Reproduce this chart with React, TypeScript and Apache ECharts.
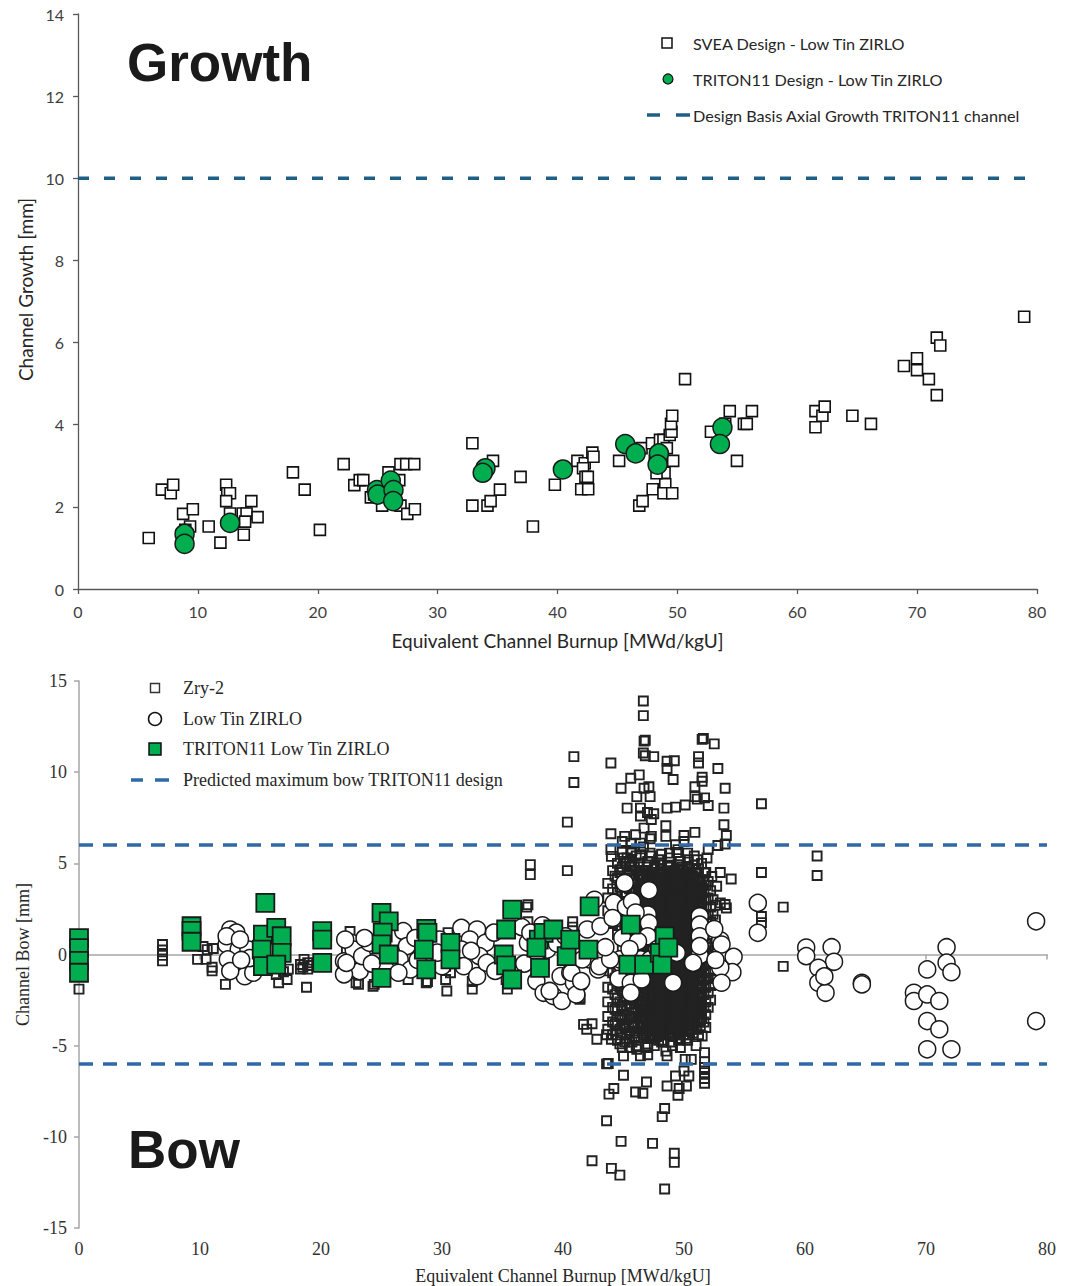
import React, { useEffect, useRef } from "react";
import * as echarts from "echarts";

// ---------- Growth panel data ----------
const burnupMin = 0;
const burnupMax = 80;
const growthMin = 0;
const growthMax = 14;
const growthLimit = 10;

const sveaGrowth: [number, number][] = [
  [5.9, 1.24], [7.0, 2.42], [7.74, 2.33], [7.94, 2.54], [8.77, 1.83], [9.58, 1.94], [9.35, 1.52], [8.95, 1.44],
  [10.9, 1.52], [11.88, 1.13], [12.36, 2.54], [12.45, 2.33], [12.68, 2.33], [12.36, 2.14], [12.68, 1.84],
  [13.74, 1.84], [14.06, 1.84], [13.94, 1.64], [13.83, 1.32], [14.46, 2.14], [14.98, 1.75], [17.93, 2.84],
  [18.91, 2.42], [20.18, 1.44], [22.16, 3.04], [23.05, 2.53], [23.5, 2.65], [23.8, 2.65], [24.43, 2.23],
  [24.7, 2.3], [25.37, 2.03], [25.9, 2.84], [26.8, 2.65], [26.9, 3.04], [27.38, 3.04], [28.05, 3.04],
  [26.9, 2.03], [27.47, 1.83], [28.1, 1.94], [32.9, 3.55], [32.9, 2.03], [34.16, 2.03], [34.42, 2.14],
  [34.62, 3.12], [35.2, 2.42], [36.92, 2.73], [37.95, 1.52], [39.78, 2.54], [41.66, 3.12], [41.98, 2.43],
  [42.56, 2.43], [42.27, 3.06], [42.13, 2.94], [42.33, 2.73], [42.53, 2.73], [42.91, 3.32], [43.0, 3.22],
  [45.14, 3.12], [46.82, 2.03], [47.1, 2.14], [47.01, 3.43], [47.88, 3.55], [47.94, 2.43], [48.55, 3.63],
  [48.84, 3.63], [49.12, 3.43], [48.93, 2.83], [48.99, 2.55], [48.84, 2.33], [49.57, 2.33], [49.65, 3.12],
  [49.36, 3.75], [49.51, 3.83], [49.47, 4.02], [49.57, 4.22], [48.26, 2.82], [48.12, 3.12], [50.64, 5.11],
  [52.8, 3.83], [53.99, 4.02], [54.37, 4.33], [54.97, 3.12], [55.55, 4.02], [55.79, 4.02], [56.22, 4.33],
  [61.52, 4.33], [61.52, 3.94], [62.1, 4.22], [62.29, 4.44], [64.6, 4.22], [66.15, 4.02], [68.9, 5.43],
  [69.99, 5.62], [69.99, 5.33], [70.98, 5.11], [71.64, 6.12], [71.93, 5.93], [71.64, 4.72], [78.93, 6.63],
];

const tritonGrowth: [number, number][] = [
  [8.89, 1.34], [8.89, 1.1], [12.68, 1.61], [24.94, 2.41], [25.0, 2.3], [26.09, 2.64], [26.32, 2.41],
  [26.29, 2.14], [33.99, 2.94], [33.76, 2.83], [40.45, 2.91], [45.65, 3.53], [46.52, 3.3], [48.46, 3.3],
  [48.35, 3.03], [53.76, 3.93], [53.55, 3.53],
];

// ---------- Bow panel data ----------
const bowMin = -15;
const bowMax = 15;
const bowLimit = 6;

const zry2Bow: [number, number][] = [
  [0, -1.9], [6.9, 0.55], [6.9, 0.25], [6.9, -0.05], [6.9, -0.35],
  [9.6, 0.9], [10.25, 0.44], [10.6, 0.27], [11.1, 0.33], [9.8, -0.27], [10.5, -0.27], [11.0, -0.7], [11.0, -0.9], [12.1, -1.64],
  [16.3, -1.1], [17.3, -0.8], [17.2, -1.37], [18.8, -1.8], [16.9, -0.95], [16.5, -1.55],
  [18.3, -0.55], [18.5, -0.7], [18.9, -0.45], [18.6, -0.27], [18.3, -0.8], [18.9, -0.8], [19.2, -0.6],
  [22.4, 1.26], [22.1, 0.27], [22.8, -0.82], [22.9, -1.55], [24.3, -1.75], [23.1, -1.64], [24.4, -1.64],
  [27.2, -1.37], [28.7, -1.55], [28.8, -1.48], [29.8, 0.27], [30.3, -0.65], [30.7, -1.0], [30.3, -1.37], [30.4, -2.0], [30.5, 1.2],
  [32.5, -1.48], [32.5, -1.9], [35.3, -1.37], [35.4, -1.9],
  [37.3, 4.93], [37.3, 4.38], [37.1, 2.73], [37.0, 2.6], [37.1, 1.8], [40.8, 1.8], [40.8, 1.5], [41.4, -2.37], [41.4, -2.46],
  [46.64, 13.9], [46.64, 13.1], [46.7, 11.7], [46.8, 11.75], [51.5, 11.8], [51.6, 11.85], [52.5, 11.55], [40.9, 10.85],
  [43.96, 10.5], [40.9, 9.43], [40.36, 7.26], [40.36, 4.6], [46.64, 11.05], [46.8, 10.9], [47.5, 10.85], [48.6, 10.6],
  [49.2, 10.63], [48.6, 10.2], [49.1, 9.6], [51.2, 10.85], [51.2, 10.5], [52.8, 10.2], [51.5, 9.72], [51.5, 9.5],
  [44.8, 9.12], [45.6, 9.67], [46.3, 9.85], [45.3, 8.03], [46.1, 8.66], [46.7, 9.12], [47.1, 9.2], [47.2, 8.66],
  [46.4, 8.03], [46.98, 7.79], [47.5, 7.72], [50.9, 9.2], [50.9, 8.66], [51.7, 8.59], [53.4, 9.12], [48.6, 8.03],
  [49.3, 8.08], [50.1, 8.2], [51.1, 8.52], [52.0, 8.17], [53.3, 8.03], [46.4, 7.6], [47.3, 7.4], [43.96, 6.62],
  [45.1, 6.48], [46.0, 6.57], [46.7, 6.93], [47.3, 6.48], [48.5, 7.06], [48.5, 6.48], [50.0, 6.53], [50.9, 6.7],
  [53.3, 7.12], [53.5, 6.53], [53.4, 6.06], [52.8, 5.98], [43.96, 5.75], [44.9, 6.2], [45.6, 6.11], [46.4, 6.11],
  [47.2, 6.35], [49.3, 6.02], [50.0, 6.2], [52.0, 5.75], [44.0, 5.38], [45.0, 5.29], [45.6, 5.56], [46.4, 5.47],
  [47.2, 5.56], [48.8, 5.56], [49.5, 5.75], [50.3, 5.56], [51.1, 5.2], [51.9, 5.29], [53.0, 4.5], [53.9, 4.14],
  [52.7, 3.74], [53.4, 2.74], [53.5, 2.55], [53.0, 2.83], [44.7, 4.65], [45.2, 5.02], [45.6, 4.83], [46.3, 5.02],
  [47.0, 5.1], [47.6, 4.83], [48.1, 5.02], [48.8, 4.83], [49.5, 4.92], [50.3, 4.83], [51.0, 4.65], [51.7, 4.47], [52.3, 4.28],
  [43.74, -5.98], [43.6, -6.0], [45.0, -6.62], [44.2, -7.35], [43.8, -7.66], [46.0, -7.54], [46.6, -7.61], [46.9, -6.99],
  [48.6, -7.21], [49.3, -6.66], [49.6, -7.35], [50.2, -7.21], [50.4, -6.66], [49.5, -7.72], [50.0, -6.39],
  [51.7, -5.38], [51.7, -5.89], [51.7, -6.2], [51.7, -6.48], [51.7, -6.8], [51.7, -7.06], [48.4, -8.45], [48.2, -8.89],
  [43.6, -9.12], [44.8, -10.25], [47.4, -10.36], [49.2, -10.9], [49.2, -11.4], [42.4, -11.31], [44.0, -11.73],
  [44.7, -12.1], [48.4, -12.86], [46.4, -5.56], [45.0, -5.56], [48.6, -5.56], [47.0, -5.1], [45.5, -4.65],
  [42.8, -4.65], [41.96, -4.1], [41.7, -3.83], [42.4, -3.8], [43.6, -4.4], [44.0, -4.65], [45.0, -3.83],
  [46.1, -5.2], [47.0, -5.5], [46.9, -4.07], [51.5, -4.47], [50.1, -5.75], [50.6, -5.75], [51.0, -5.0],
  [56.4, 8.27], [56.4, 4.5], [56.4, 2.08], [56.4, 1.75], [58.2, 2.6], [58.2, -0.65], [61.0, 5.4], [61.0, 4.33],
];

// dense cloud of Zry-2 measurements, listed per burnup column: [burnup, bows]
const zry2BowDense: [number, number[]][] = [
  [43.7, [3.9, 3.1, 2.4, -0.9, -1.8, -2.6, -3.4, -4.1]],
  [44.1, [4.6, 3.6, 2.9, 1.7, -1.0, -1.9, -2.9, -3.7, -4.4]],
  [44.3, [4.3, 3.0, 2.0, -0.3, -1.3, -2.2, -3.0, -3.8]],
  [44.5, [5.0, 4.2, 3.4, 2.7, 1.1, -0.7, -1.6, -2.4, -3.1, -3.9, -4.7]],
  [44.7, [4.5, 3.7, 2.8, 1.8, -0.9, -1.8, -2.6, -3.4, -4.1, -4.9]],
  [44.9, [5.6, 4.8, 4.0, 3.2, 2.3, 0.3, -0.4, -1.2, -2.0, -2.8, -3.5, -4.3, -5.1]],
  [45.1, [5.0, 4.2, 3.4, 2.6, 1.6, 0.8, -0.1, -0.9, -1.7, -2.5, -3.3, -4.0, -4.8]],
  [45.3, [5.3, 4.5, 3.7, 2.9, 2.0, 1.2, 0.4, -0.5, -1.3, -2.1, -2.9, -3.6, -4.4]],
  [45.5, [5.1, 4.4, 3.6, 2.8, 2.2, 1.4, 0.6, -0.3, -1.1, -1.9, -2.7, -3.5, -4.2, -5.1]],
  [45.7, [5.7, 4.9, 4.2, 3.4, 2.6, 1.8, 1.0, 0.1, -0.8, -1.6, -2.4, -3.2, -3.9, -4.8]],
  [45.9, [4.8, 4.1, 3.5, 2.8, 2.0, 1.2, 0.4, -0.5, -1.3, -2.2, -3.0, -3.8, -4.5]],
  [46.05, [5.4, 4.6, 3.9, 3.1, 2.4, 1.5, 0.7, -0.2, -1.1, -1.9, -2.7, -3.4, -4.2, -5.0]],
  [46.2, [5.0, 4.3, 3.5, 2.7, 2.0, 1.1, 0.3, -0.6, -1.5, -2.3, -3.1, -3.9, -4.6]],
  [46.4, [5.3, 4.6, 4.1, 3.7, 3.2, 2.8, 2.3, 1.9, 1.4, 0.9, 0.5, 0.0, -0.5, -0.9, -1.4, -1.8, -2.3, -2.8, -3.2, -3.7]],
  [46.55, [4.4, 3.9, 3.5, 3.0, 2.6, 2.1, 1.7, 1.2, 0.7, 0.3, -0.2, -0.7, -1.1, -1.6, -2.0, -2.5, -3.0, -3.4, -3.9, -4.3]],
  [46.65, [5.9, 4.3, 3.9, 3.4, 3.0, 2.5, 2.1, 1.6, 1.2, 0.7, 0.2, -0.2, -0.7, -1.2, -1.6, -2.1, -2.5, -3.0, -3.5, -3.9, -4.4]],
  [46.85, [4.6, 4.1, 3.7, 3.2, 2.8, 2.3, 1.9, 1.4, 1.0, 0.5, 0.1, -0.4, -0.8, -1.3, -1.7, -2.2, -2.6, -3.1, -3.6, -4.0, -4.5]],
  [47.0, [4.8, 4.4, 3.9, 3.5, 3.0, 2.6, 2.1, 1.7, 1.2, 0.8, 0.3, -0.1, -0.6, -1.0, -1.5, -1.9, -2.4, -2.9, -3.3, -3.8, -4.2, -4.9]],
  [47.15, [4.2, 3.8, 3.3, 2.9, 2.4, 2.0, 1.5, 1.1, 0.6, 0.1, -0.3, -0.8, -1.2, -1.7, -2.1, -2.6, -3.1, -3.5, -4.0, -4.4]],
  [47.3, [5.4, 4.5, 4.0, 3.6, 3.1, 2.7, 2.2, 1.8, 1.3, 0.9, 0.4, -0.1, -0.5, -1.0, -1.4, -1.9, -2.3, -2.8, -3.2, -3.7, -4.1, -4.6]],
  [47.45, [4.5, 4.1, 3.6, 3.2, 2.7, 2.3, 1.8, 1.4, 0.9, 0.4, 0.0, -0.5, -0.9, -1.4, -1.8, -2.3, -2.8, -3.2, -3.7, -4.2, -4.6]],
  [47.55, [4.7, 4.3, 3.8, 3.3, 2.9, 2.4, 2.0, 1.5, 1.1, 0.6, 0.2, -0.3, -0.7, -1.2, -1.6, -2.1, -2.6, -3.0, -3.5, -3.9, -4.4, -5.0]],
  [47.75, [4.2, 3.7, 3.3, 2.8, 2.4, 1.9, 1.5, 1.0, 0.6, 0.1, -0.4, -0.8, -1.3, -1.7, -2.2, -2.6, -3.1, -3.5, -4.0, -4.5]],
  [47.9, [5.2, 4.4, 4.0, 3.5, 3.1, 2.6, 2.2, 1.7, 1.3, 0.8, 0.4, -0.1, -0.6, -1.0, -1.5, -1.9, -2.4, -2.8, -3.3, -3.7, -4.2, -4.7]],
  [48.05, [4.7, 4.2, 3.8, 3.3, 2.9, 2.4, 2.0, 1.5, 1.1, 0.6, 0.2, -0.3, -0.7, -1.2, -1.6, -2.1, -2.5, -3.0, -3.4, -3.9, -4.4]],
  [48.15, [5.5, 4.9, 4.5, 4.0, 3.6, 3.1, 2.7, 2.2, 1.8, 1.3, 0.9, 0.4, 0.0, -0.5, -0.9, -1.4, -1.8, -2.3, -2.7, -3.2, -3.6, -4.1, -4.8]],
  [48.35, [4.4, 3.9, 3.5, 3.0, 2.6, 2.1, 1.7, 1.2, 0.8, 0.3, -0.1, -0.6, -1.0, -1.5, -1.9, -2.4, -2.8, -3.3, -3.8, -4.2, -4.7]],
  [48.5, [4.6, 4.2, 3.7, 3.3, 2.8, 2.4, 1.9, 1.5, 1.0, 0.6, 0.1, -0.3, -0.8, -1.2, -1.7, -2.1, -2.6, -3.0, -3.5, -4.0, -4.4, -5.3]],
  [48.65, [4.9, 4.4, 4.0, 3.5, 3.1, 2.6, 2.2, 1.7, 1.3, 0.8, 0.4, -0.1, -0.5, -1.0, -1.4, -1.9, -2.3, -2.8, -3.2, -3.7, -4.1]],
  [48.8, [5.3, 4.8, 4.3, 3.9, 3.4, 3.0, 2.5, 2.1, 1.6, 1.2, 0.7, 0.3, -0.2, -0.6, -1.1, -1.5, -2.0, -2.4, -2.9, -3.3, -3.8, -4.3]],
  [48.95, [4.3, 3.8, 3.4, 2.9, 2.5, 2.0, 1.6, 1.1, 0.7, 0.2, -0.2, -0.7, -1.1, -1.6, -2.0, -2.5, -2.9, -3.4, -3.9, -4.3, -4.8]],
  [49.05, [4.5, 4.1, 3.6, 3.2, 2.7, 2.3, 1.8, 1.4, 0.9, 0.5, 0.0, -0.4, -0.9, -1.3, -1.8, -2.2, -2.7, -3.1, -3.6, -4.0, -4.5, -5.0]],
  [49.25, [4.6, 4.1, 3.7, 3.2, 2.8, 2.3, 1.9, 1.4, 1.0, 0.5, 0.1, -0.4, -0.8, -1.3, -1.7, -2.2, -2.6, -3.1, -3.5, -4.0, -4.4]],
  [49.4, [5.6, 4.7, 4.2, 3.8, 3.3, 2.9, 2.4, 2.0, 1.5, 1.1, 0.6, 0.2, -0.3, -0.7, -1.2, -1.6, -2.1, -2.5, -3.0, -3.4, -3.9, -4.3]],
  [49.55, [4.3, 3.9, 3.4, 3.0, 2.5, 2.1, 1.6, 1.2, 0.7, 0.3, -0.2, -0.6, -1.1, -1.5, -2.0, -2.4, -2.9, -3.3, -3.8, -4.2, -4.7]],
  [49.7, [5.1, 4.4, 4.0, 3.5, 3.1, 2.6, 2.2, 1.7, 1.3, 0.8, 0.4, -0.1, -0.5, -1.0, -1.4, -1.9, -2.3, -2.8, -3.2, -3.7, -4.1, -4.6, -5.1]],
  [49.85, [4.8, 4.3, 3.9, 3.4, 3.0, 2.5, 2.1, 1.6, 1.2, 0.7, 0.3, -0.2, -0.6, -1.1, -1.5, -2.0, -2.4, -2.9, -3.3, -3.8, -4.2]],
  [49.95, [4.6, 4.1, 3.7, 3.2, 2.8, 2.3, 1.9, 1.4, 1.0, 0.5, 0.1, -0.4, -0.8, -1.3, -1.7, -2.2, -2.6, -3.1, -3.5, -4.0, -4.4]],
  [50.15, [4.4, 4.0, 3.5, 3.1, 2.6, 2.2, 1.7, 1.3, 0.8, 0.4, -0.1, -0.5, -1.0, -1.4, -1.9, -2.3, -2.8, -3.2, -3.7, -4.1, -4.6]],
  [50.3, [5.2, 4.3, 3.9, 3.4, 3.0, 2.5, 2.1, 1.6, 1.2, 0.7, 0.3, -0.2, -0.6, -1.1, -1.5, -2.0, -2.4, -2.9, -3.3, -3.8, -4.2, -4.7]],
  [50.45, [4.7, 4.2, 3.8, 3.3, 2.9, 2.4, 2.0, 1.5, 1.1, 0.6, 0.2, -0.3, -0.7, -1.2, -1.6, -2.1, -2.5, -3.0, -3.4, -3.9, -4.4]],
  [50.6, [4.5, 4.0, 3.6, 3.1, 2.7, 2.2, 1.8, 1.3, 0.9, 0.4, 0.0, -0.5, -0.9, -1.4, -1.8, -2.3, -2.7, -3.2, -3.6, -4.1]],
  [50.75, [4.3, 3.8, 3.4, 2.9, 2.5, 2.0, 1.6, 1.1, 0.7, 0.2, -0.2, -0.7, -1.1, -1.6, -2.0, -2.5, -2.9, -3.4, -3.8, -4.3]],
  [50.85, [5.4, 4.9, 4.2, 3.8, 3.3, 2.9, 2.4, 2.0, 1.5, 1.1, 0.6, 0.2, -0.3, -0.7, -1.2, -1.6, -2.1, -2.5, -3.0, -3.4, -3.9]],
  [51.05, [4.5, 4.0, 3.6, 3.1, 2.7, 2.2, 1.8, 1.3, 0.9, 0.4, 0.0, -0.5, -0.9, -1.4, -1.8, -2.3, -2.7, -3.2, -3.6, -4.1]],
  [51.2, [4.7, 4.0, 3.5, 3.1, 2.6, 2.2, 1.7, 1.3, 0.8, 0.4, -0.1, -0.5, -1.0, -1.4, -1.9, -2.3, -2.8, -3.2, -3.7, -4.4]],
  [51.35, [4.1, 3.6, 3.2, 2.7, 2.3, 1.8, 1.4, 0.9, 0.5, 0.0, -0.4, -0.9, -1.3, -1.8, -2.2, -2.7, -3.1, -3.6, -4.0]],
  [51.45, [5.0, 3.7, 3.3, 2.8, 2.4, 1.9, 1.5, 1.0, 0.6, 0.1, -0.3, -0.8, -1.2, -1.7, -2.1, -2.6, -3.0, -3.5]],
  [51.65, [4.1, 3.4, 2.6, 1.8, 1.0, 0.2, -0.6, -1.4, -2.2, -2.9, -3.7]],
  [51.8, [4.5, 3.8, 3.0, 2.2, 1.4, 0.6, -0.2, -1.0, -1.8, -2.6, -3.3, -4.0]],
  [52.0, [4.0, 3.1, 2.2, 1.3, 0.4, -0.5, -1.3, -2.1, -2.9]],
  [52.2, [3.5, 2.6, 1.8, 0.9, 0.0, -0.9, -1.7, -2.5]],
  [52.4, [3.0, 2.2, 1.1, 0.2, -0.8, -1.6]],
  [52.6, [2.7, 1.9, 0.5, -0.5, -1.3]],
];

const lowTinBow: [number, number][] = [
  [12.5, 1.37], [13.0, 1.2], [12.2, 0.55], [13.2, 0.27], [14.0, 0.27], [12.75, -0.64], [13.9, -0.73], [12.3, -0.27],
  [13.7, -1.19], [14.4, -1.0], [12.2, 1.0], [13.3, 0.82], [14.1, -0.2], [12.5, -0.91], [13.4, -0.3],
  [21.9, -0.37], [22.8, 0.18], [23.2, -0.91], [23.9, 0.46], [21.9, -1.09], [22.5, 0.64], [22.7, 0.27], [22.1, -0.46],
  [23.4, -0.09], [24.0, 0.64], [22.0, 0.82], [24.2, -0.5], [23.6, 0.9],
  [26.8, 1.28], [27.1, 0.46], [26.5, -0.27], [27.4, -0.82], [26.4, -1.0], [27.8, 0.9], [28.0, -0.3], [29.8, 0.82],
  [30.0, -0.64], [29.6, 0.1], [31.6, 1.46], [32.9, 1.37], [32.3, 0.82], [33.6, 0.64], [31.6, 0.27], [33.1, -0.09],
  [31.8, -0.64], [32.9, -1.19], [33.7, -0.46], [34.3, 1.2], [34.4, -0.9], [32.4, 0.2],
  [37.1, 0.64], [38.7, 0.27], [39.8, -1.19], [40.6, -1.0], [41.4, -1.55], [42.0, 1.37], [42.2, -0.27], [40.9, -1.55],
  [37.8, -1.46], [38.4, -2.1], [39.2, -2.28], [39.9, -2.55], [41.1, -2.19], [38.9, -2.0], [40.7, -1.0], [41.5, -1.46],
  [42.9, -0.82], [44.9, -0.55], [44.6, -1.33], [41.6, -0.27], [43.0, -0.64], [44.7, -0.27], [43.9, -0.27], [43.1, 1.55],
  [42.6, 3.0], [44.2, 2.83], [44.1, 2.0], [45.2, 2.6], [44.9, 0.91], [36.6, 1.5], [36.8, -0.5], [39.5, 0.6],
  [38.3, 1.6], [40.2, 1.0], [43.5, 0.4], [37.3, 1.2],
  [45.1, 3.92], [47.1, 3.52], [47.0, 2.19], [47.1, 1.73], [47.0, 1.0], [46.2, 0.73], [51.3, 2.1], [51.3, 1.64],
  [51.3, 1.0], [51.3, -0.05], [53.0, 0.78], [53.0, 0.0], [54.1, -0.13], [54.0, -0.97], [53.0, -0.73], [50.75, -0.46],
  [45.6, -1.55], [45.6, -2.1], [49.1, -1.55], [46.5, -1.37], [53.1, -1.55], [46.4, -0.27], [47.2, -0.27], [51.3, 0.46],
  [49.4, 0.09], [53.1, 0.55], [45.7, 2.9], [46.0, 2.3], [47.8, 0.3], [45.5, 0.3], [52.5, 1.4], [52.6, -0.3],
  [56.1, 2.83], [56.1, 1.19], [60.1, 0.38], [60.1, -0.09], [62.2, 0.4], [62.4, -0.4], [61.1, -0.73], [61.1, -1.55],
  [61.7, -2.1], [61.6, -1.2], [64.7, -1.55], [64.7, -1.64], [70.1, -0.82], [71.7, 0.4], [71.7, -0.45], [72.1, -0.97],
  [69.0, -2.1], [69.0, -2.55], [70.1, -2.19], [71.1, -2.55], [70.1, -3.65], [71.1, -4.1], [70.1, -5.2], [72.1, -5.2],
  [79.1, 1.82], [79.1, -3.65],
];

const tritonBow: [number, number][] = [
  [0, 0.9], [0, 0.35], [0, -0.35], [0, -1.0], [9.3, 1.55], [9.3, 1.3], [9.3, 0.7], [15.4, 2.83], [15.2, 1.09],
  [15.1, 0.27], [15.2, -0.64], [16.3, 1.46], [16.75, 1.0], [16.75, 0.09], [16.3, -0.55], [20.1, 1.28], [20.1, 0.82],
  [20.1, -0.46], [25.0, 2.28], [25.6, 1.82], [25.1, 1.2], [25.0, 0.55], [25.6, 0.0], [25.0, -1.28], [28.7, 1.4],
  [28.8, 1.19], [28.5, 0.27], [28.7, -0.82], [30.7, 0.64], [30.7, -0.27], [35.8, 2.46], [35.3, 1.37], [35.1, 0.0],
  [35.3, -0.6], [35.8, -1.37], [38.0, 0.82], [38.4, 1.19], [39.2, 1.37], [37.8, 0.38], [38.1, -0.73], [40.3, -0.09],
  [40.6, 0.82], [42.1, 0.27], [42.2, 2.64], [45.6, 1.64], [45.4, -0.55], [46.7, -0.55], [48.4, 1.0], [48.0, 0.09],
  [48.2, -0.55], [48.7, 0.38],
];

const zry2All: number[][] = [
  ...zry2Bow,
  ...zry2BowDense.flatMap(([x, ys]) => ys.map((y) => [x, y])),
];

const SANS = "Lato";
const SERIF = "Liberation Serif";
const BLUE_TOP = "#1f5f86";
const BLUE_BOT = "#2f6aa6";
const GREEN = "#00ad4f";

function buildOption(): any {
  const serif18 = { fontFamily: SERIF, fontSize: 18, color: "#262626" };
  const legendTextTop = (y: number, text: string) => ({
    type: "text",
    x: 693,
    y,
    style: { text, fill: "#262626", fontFamily: SANS, fontSize: 16.2, align: "left", verticalAlign: "middle", textAlign: "left", textVerticalAlign: "middle" },
  });
  const legendTextBot = (y: number, text: string) => ({
    type: "text",
    x: 183,
    y,
    style: { text, fill: "#262626", fontFamily: SERIF, fontSize: 18, align: "left", verticalAlign: "middle", textAlign: "left", textVerticalAlign: "middle" },
  });
  return {
    animation: false,
    backgroundColor: "#ffffff",
    grid: [
      { left: 78, top: 14, width: 959, height: 575 },
      { left: 79, top: 681, width: 968, height: 548 },
    ],
    xAxis: [
      {
        gridIndex: 0, type: "value", min: burnupMin, max: burnupMax, interval: 10,
        name: "Equivalent Channel Burnup [MWd/kgU]", nameLocation: "middle", nameGap: 42,
        nameTextStyle: { fontFamily: SANS, fontSize: 19, color: "#262626" },
        axisLine: { show: true, onZero: false, lineStyle: { color: "#595959", width: 1.3 } },
        axisTick: { show: true, length: 5, lineStyle: { color: "#595959", width: 1.3 } },
        axisLabel: { fontFamily: SANS, fontSize: 16, color: "#404040", margin: 14 },
        splitLine: { show: false },
      },
      {
        gridIndex: 1, type: "value", min: burnupMin, max: burnupMax, interval: 10, position: "bottom",
        name: "Equivalent Channel Burnup [MWd/kgU]", nameLocation: "middle", nameGap: 39,
        nameTextStyle: serif18,
        axisLine: { show: false, onZero: false },
        axisTick: { show: false },
        axisLabel: { fontFamily: SERIF, fontSize: 18, color: "#333", margin: 12 },
        splitLine: { show: false },
      },
      {
        gridIndex: 1, type: "value", min: burnupMin, max: burnupMax, interval: 10, position: "top",
        axisLine: { show: true, onZero: true, lineStyle: { color: "#a6a6a6", width: 1.5 } },
        axisTick: { show: true, inside: true, length: 5, lineStyle: { color: "#a6a6a6", width: 1.5 } },
        axisLabel: { show: false },
        splitLine: { show: false },
      },
    ],
    yAxis: [
      {
        gridIndex: 0, type: "value", min: growthMin, max: growthMax, interval: 2,
        name: "Channel Growth [mm]", nameLocation: "middle", nameGap: 38, nameRotate: 90,
        nameTextStyle: { fontFamily: SANS, fontSize: 19, color: "#262626", padding: [0, 0, 0, 24] },
        axisLine: { show: true, onZero: false, lineStyle: { color: "#595959", width: 1.3 } },
        axisTick: { show: true, length: 5, lineStyle: { color: "#595959", width: 1.3 } },
        axisLabel: { fontFamily: SANS, fontSize: 16, color: "#404040", margin: 14 },
        splitLine: { show: false },
      },
      {
        gridIndex: 1, type: "value", min: bowMin, max: bowMax, interval: 5,
        name: "Channel Bow [mm]", nameLocation: "middle", nameGap: 45, nameRotate: 90,
        nameTextStyle: serif18,
        axisLine: { show: true, onZero: false, lineStyle: { color: "#a6a6a6", width: 1.5 } },
        axisTick: { show: true, length: 5, lineStyle: { color: "#a6a6a6", width: 1.5 } },
        axisLabel: { fontFamily: SERIF, fontSize: 18, color: "#333", margin: 12 },
        splitLine: { show: false },
      },
    ],
    series: [
      {
        name: "Design Basis Axial Growth TRITON11 channel", type: "line", xAxisIndex: 0, yAxisIndex: 0,
        data: [[burnupMin, growthLimit], [burnupMax, growthLimit]], symbol: "none", silent: true,
        lineStyle: { color: BLUE_TOP, width: 3.5, type: [11, 15] },
      },
      {
        name: "SVEA Design - Low Tin ZIRLO", type: "scatter", xAxisIndex: 0, yAxisIndex: 0,
        data: sveaGrowth, symbol: "rect", symbolSize: 11, silent: true,
        itemStyle: { color: "#ffffff", borderColor: "#111111", borderWidth: 1.6, opacity: 1 },
      },
      {
        name: "TRITON11 Design - Low Tin ZIRLO", type: "scatter", xAxisIndex: 0, yAxisIndex: 0,
        data: tritonGrowth, symbol: "circle", symbolSize: 19, silent: true,
        itemStyle: { color: GREEN, borderColor: "#1a1a1a", borderWidth: 1.5, opacity: 1 },
      },
      {
        name: "Zry-2", type: "scatter", xAxisIndex: 1, yAxisIndex: 1,
        data: zry2All, symbol: "rect", symbolSize: 9, silent: true,
        itemStyle: { color: "rgba(255,255,255,0)", borderColor: "#222222", borderWidth: 1.9, opacity: 1 },
      },
      {
        name: "Predicted maximum bow TRITON11 design", type: "line", xAxisIndex: 1, yAxisIndex: 1,
        data: [[burnupMin, bowLimit], [burnupMax, bowLimit]], symbol: "none", silent: true,
        lineStyle: { color: BLUE_BOT, width: 3.5, type: [14, 10] },
      },
      {
        name: "Predicted maximum bow TRITON11 design (lower)", type: "line", xAxisIndex: 1, yAxisIndex: 1,
        data: [[burnupMin, -bowLimit], [burnupMax, -bowLimit]], symbol: "none", silent: true,
        lineStyle: { color: BLUE_BOT, width: 3.5, type: [14, 10] },
      },
      {
        name: "Low Tin ZIRLO", type: "scatter", xAxisIndex: 1, yAxisIndex: 1,
        data: lowTinBow, symbol: "circle", symbolSize: 17, silent: true,
        itemStyle: { color: "#ffffff", borderColor: "#1a1a1a", borderWidth: 1.5, opacity: 1 },
      },
      {
        name: "TRITON11 Low Tin ZIRLO", type: "scatter", xAxisIndex: 1, yAxisIndex: 1,
        data: tritonBow, symbol: "rect", symbolSize: 18, silent: true,
        itemStyle: { color: GREEN, borderColor: "#1a1a1a", borderWidth: 1.8, opacity: 1 },
      },
    ],
    graphic: [
      {
        type: "text", x: 127, y: 62,
        style: { text: "Growth", fill: "#1a1a1a", fontFamily: "Liberation Sans", fontWeight: "bold", fontSize: 53, align: "left", verticalAlign: "middle", textAlign: "left", textVerticalAlign: "middle" },
      },
      {
        type: "text", x: 128, y: 1149,
        style: { text: "Bow", fill: "#1a1a1a", fontFamily: "Liberation Sans", fontWeight: "bold", fontSize: 53, align: "left", verticalAlign: "middle", textAlign: "left", textVerticalAlign: "middle" },
      },
      // top legend
      { type: "rect", shape: { x: 662, y: 38, width: 10, height: 10 }, style: { fill: "#fff", stroke: "#111", lineWidth: 1.5 } },
      { type: "circle", shape: { cx: 668, cy: 79, r: 5 }, style: { fill: GREEN, stroke: "#111", lineWidth: 1.2 } },
      { type: "line", shape: { x1: 647, y1: 115, x2: 660, y2: 115 }, style: { stroke: BLUE_TOP, lineWidth: 3.5 } },
      { type: "line", shape: { x1: 676, y1: 115, x2: 690, y2: 115 }, style: { stroke: BLUE_TOP, lineWidth: 3.5 } },
      legendTextTop(43, "SVEA Design - Low Tin ZIRLO"),
      legendTextTop(79, "TRITON11 Design - Low Tin ZIRLO"),
      legendTextTop(115, "Design Basis Axial Growth TRITON11 channel"),
      // bottom legend
      { type: "rect", shape: { x: 150.5, y: 683.5, width: 9, height: 9 }, style: { fill: "#fff", stroke: "#333", lineWidth: 1.4 } },
      { type: "circle", shape: { cx: 155, cy: 719, r: 6.5 }, style: { fill: "#fff", stroke: "#111", lineWidth: 1.5 } },
      { type: "rect", shape: { x: 149, y: 743, width: 12, height: 12 }, style: { fill: GREEN, stroke: "#111", lineWidth: 1.5 } },
      { type: "line", shape: { x1: 131, y1: 780, x2: 143, y2: 780 }, style: { stroke: BLUE_BOT, lineWidth: 3.5 } },
      { type: "line", shape: { x1: 155, y1: 780, x2: 169, y2: 780 }, style: { stroke: BLUE_BOT, lineWidth: 3.5 } },
      legendTextBot(688, "Zry-2"),
      legendTextBot(719, "Low Tin ZIRLO"),
      legendTextBot(749, "TRITON11 Low Tin ZIRLO"),
      legendTextBot(780, "Predicted maximum bow TRITON11 design"),
    ],
  };
}

export default function App() {
  const ref = useRef<HTMLDivElement>(null);
  useEffect(() => {
    if (!ref.current) return;
    const chart = echarts.init(ref.current, null, { renderer: "svg" });
    chart.setOption(buildOption());
    return () => chart.dispose();
  }, []);
  return (
    <div
      ref={ref}
      style={{ position: "absolute", left: 0, top: 0, width: 1074, height: 1286, background: "#fff" }}
    />
  );
}
